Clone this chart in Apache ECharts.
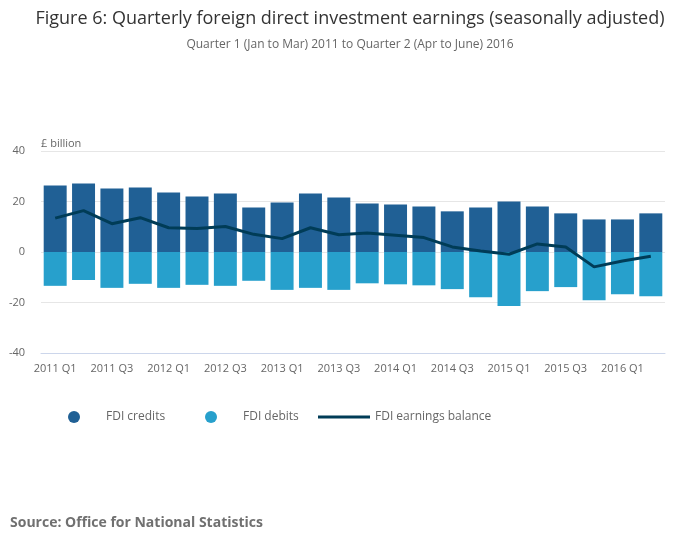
<!DOCTYPE html>
<html lang="en">
<head>
    <meta charset="UTF-8">
    <title>Figure 6: FDI earnings</title>
    <style>
        html, body { margin: 0; padding: 0; background: #fff; }
        #main { width: 700px; height: 549px; }
    </style>
    <script src="https://cdn.jsdelivr.net/npm/echarts@6/dist/echarts.min.js"></script>
</head>
<body>
<div id="main"></div>
<script type="text/javascript">
    // quarters, 2011 Q1 to 2016 Q2
    var quarters = [
        '2011 Q1', '2011 Q2', '2011 Q3', '2011 Q4',
        '2012 Q1', '2012 Q2', '2012 Q3', '2012 Q4',
        '2013 Q1', '2013 Q2', '2013 Q3', '2013 Q4',
        '2014 Q1', '2014 Q2', '2014 Q3', '2014 Q4',
        '2015 Q1', '2015 Q2', '2015 Q3', '2015 Q4',
        '2016 Q1', '2016 Q2'
    ];
    // £ billion
    var credits = [26.3, 27.1, 25.1, 25.5, 23.6, 22.0, 23.2, 17.6, 19.6, 23.2, 21.6,
                   19.2, 18.8, 18.0, 16.1, 17.6, 20.0, 18.0, 15.3, 12.9, 12.9, 15.3];
    var debits = [-13.4, -11.1, -14.2, -12.6, -14.2, -13.0, -13.4, -11.4, -15.0, -14.2, -15.0,
                  -12.4, -12.8, -13.2, -14.7, -17.9, -21.4, -15.5, -13.9, -19.1, -16.7, -17.5];
    var balance = [13.4, 16.4, 11.2, 13.6, 9.6, 9.3, 10.1, 7.0, 5.3, 9.6, 6.8,
                   7.5, 6.6, 5.7, 2.0, 0.4, -0.9, 3.2, 2.0, -5.9, -3.6, -1.7];

    var font = '"Open Sans", "Noto Sans", sans-serif';
    var legendText = { color: '#666', fontSize: 12, fontFamily: font };

    var myChart = echarts.init(document.getElementById('main'));
    var option = {
        animation: false,
        title: [{
            text: 'Figure 6: Quarterly foreign direct investment earnings (seasonally adjusted)',
            subtext: 'Quarter 1 (Jan to Mar) 2011 to Quarter 2 (Apr to June) 2016',
            left: 'center',
            top: 5,
            itemGap: 11,
            textStyle: { fontSize: 18, fontWeight: 'normal', color: '#333', fontFamily: font },
            subtextStyle: { fontSize: 12, color: '#666', fontFamily: font }
        }, {
            text: 'Source: Office for National Statistics',
            left: 5,
            top: 511,
            textStyle: { fontSize: 14, fontWeight: 'bold', color: '#707070', fontFamily: font }
        }],
        legend: [{
            left: 63, top: 406,
            icon: 'circle', itemWidth: 12, itemHeight: 12,
            textStyle: Object.assign({ padding: [0, 0, 0, 21] }, legendText),
            data: ['FDI credits']
        }, {
            left: 200, top: 406,
            icon: 'circle', itemWidth: 12, itemHeight: 12,
            textStyle: Object.assign({ padding: [0, 0, 0, 21] }, legendText),
            data: ['FDI debits']
        }, {
            left: 313, top: 406,
            icon: 'rect', itemWidth: 52, itemHeight: 3,
            textStyle: legendText,
            data: ['FDI earnings balance']
        }],
        grid: { left: 41, right: 35, top: 151, bottom: 196 },
        xAxis: {
            type: 'category',
            data: quarters,
            axisLine: { onZero: false, lineStyle: { color: '#ccd6eb' } },
            axisTick: { alignWithLabel: true, interval: 1, length: 8, lineStyle: { color: '#ccd6eb' } },
            axisLabel: { interval: 1, color: '#666', fontSize: 11, fontFamily: font, margin: 10 }
        },
        yAxis: {
            type: 'value',
            min: -40, max: 40, interval: 20,
            name: '£ billion',
            nameLocation: 'end',
            nameGap: 2,
            nameTextStyle: { align: 'left', color: '#666', fontSize: 11, fontFamily: font },
            axisLine: { show: false },
            axisTick: { show: false },
            axisLabel: { color: '#666', fontSize: 11, fontFamily: font, margin: 16 },
            splitLine: { lineStyle: { color: '#e6e6e6' } }
        },
        series: [{
            name: 'FDI credits',
            type: 'bar',
            data: credits,
            barCategoryGap: '19%',
            barGap: '-100%',
            itemStyle: { color: '#206095' }
        }, {
            name: 'FDI debits',
            type: 'bar',
            data: debits,
            barCategoryGap: '19%',
            barGap: '-100%',
            itemStyle: { color: '#27a0cc' }
        }, {
            name: 'FDI earnings balance',
            type: 'line',
            data: balance,
            symbol: 'none',
            itemStyle: { color: '#003c57' },
            lineStyle: { color: '#003c57', width: 3 }
        }]
    };
    myChart.setOption(option);
</script>
</body>
</html>
